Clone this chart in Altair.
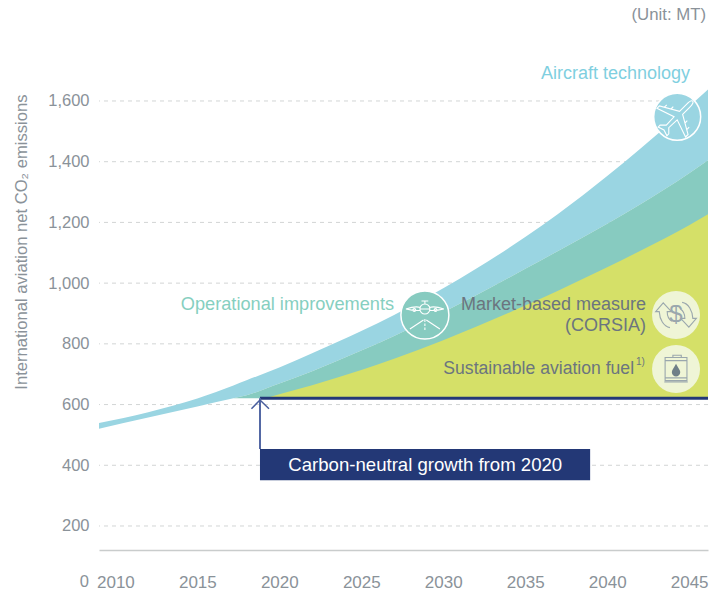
import altair as alt
import pandas as pd

# Band boundaries, MT of CO2 per year
blue_years = [2009, 2012, 2015, 2017.2, 2018, 2020, 2022, 2025, 2027, 2030, 2032, 2035, 2037, 2040, 2042, 2045, 2046.15]
blue_upper = [539, 575, 620, 663, 680, 722, 769, 842, 895, 983, 1047, 1152, 1228, 1353, 1442, 1582, 1638]
blue_lower = [520, 557, 594, 621, 631, 669, 710, 778, 826, 904, 960, 1047, 1106, 1196, 1259, 1362, 1405]

teal_years = blue_years[3:]
teal_upper = blue_lower[3:]

green_years = [2019.15, 2020, 2022, 2025, 2027, 2030, 2032, 2035, 2037, 2040, 2042, 2045, 2046.15]
green_upper = [621, 634, 664, 714, 751, 812, 856, 926, 975, 1052, 1106, 1191, 1227]

CAP = 621
CAP_START = 2018.82
X_END = 2046.15

y_grid = [200, 400, 600, 800, 1000, 1200, 1400, 1600]
x_labels = [2010, 2015, 2020, 2025, 2030, 2035, 2040, 2045]

BLUE = "#9ad5e2"
TEAL = "#87cbc0"
GREEN = "#d5e068"
NAVY = "#233876"
PALE = "#eff5d6"
GREY = "#8a9299"
DARK = "#6b757f"
ICON = "#9aa7ad"
FONT = "Liberation Sans"

x_scale = alt.Scale(domain=[2009, X_END], nice=False)
y_scale = alt.Scale(domain=[120.9, 1735], nice=False)
X = alt.X("x:Q", scale=x_scale, title=None)
Y = alt.Y("y:Q", scale=y_scale, title=None)


def band(years, upper, lower, color):
    frame = pd.DataFrame({"x": years, "y": upper, "y2": lower})
    return alt.Chart(frame).mark_area(color=color, interpolate="monotone", opacity=1).encode(X, Y, y2="y2:Q")


def polyline(xs, ys, color, width):
    frame = pd.DataFrame({"x": xs, "y": ys, "o": range(len(xs))})
    return alt.Chart(frame).mark_line(color=color, strokeWidth=width).encode(X, Y, order="o:Q")


def label(text, x, y, color, size, align="right", **kw):
    frame = pd.DataFrame({"x": [x], "y": [y], "t": [text]})
    return alt.Chart(frame).mark_text(
        color=color, fontSize=size, align=align, baseline="middle", font=FONT, **kw
    ).encode(X, Y, text="t:N")


def disc(x, y, radius, fill, stroke=None):
    # Vega sizes a circle symbol by the square of its diameter
    frame = pd.DataFrame({"x": [x], "y": [y]})
    style = dict(shape="circle", filled=True, fill=fill, size=4 * radius * radius, opacity=1)
    if stroke:
        style.update(stroke=stroke, strokeWidth=1.5)
    return alt.Chart(frame).mark_point(**style).encode(X, Y)


def glyph(path, x, y, span, color, width=1.1, filled=False, **kw):
    frame = pd.DataFrame({"x": [x], "y": [y]})
    if filled:
        style = dict(filled=True, fill=color, strokeWidth=0, opacity=1)
    else:
        style = dict(filled=False, stroke=color, strokeWidth=width, opacity=1)
    return alt.Chart(frame).mark_point(shape=path, size=span * span, **style, **kw).encode(X, Y)


PLANE_TOP = (
    "M0,-1 C.07,-1 .1,-.85 .1,-.7 L.1,-.25 L.92,.22 L.92,.38 L.1,.1 L.08,.62 L.28,.82 L.28,.94 "
    "L0,.85 L-.28,.94 L-.28,.82 L-.08,.62 L-.1,.1 L-.92,.38 L-.92,.22 L-.1,-.25 L-.1,-.7 "
    "C-.1,-.85 -.07,-1 0,-1 Z M.45,-.05 L.45,-.2 M.72,.1 L.72,-.05 M-.45,-.05 L-.45,-.2 M-.72,.1 L-.72,-.05"
)
PLANE_FRONT = (
    "M.25,-.3 A.25,.25 0 1,1 -.25,-.3 A.25,.25 0 1,1 .25,-.3 Z M-.25,-.3 L.25,-.3 "
    "M-.95,-.3 C-.6,-.42 -.35,-.42 -.24,-.38 M.95,-.3 C.6,-.42 .35,-.42 .24,-.38 "
    "M-.95,-.3 C-.6,-.22 -.35,-.22 -.25,-.24 M.95,-.3 C.6,-.22 .35,-.22 .25,-.24 "
    "M0,-.55 L0,-.7 M-.17,-.7 L.17,-.7 M-.46,-.25 A.07,.07 0 1,1 -.6,-.25 A.07,.07 0 1,1 -.46,-.25 Z "
    "M.6,-.25 A.07,.07 0 1,1 .46,-.25 A.07,.07 0 1,1 .6,-.25 Z "
    "M-.07,.25 L-.75,.7 M.07,.25 L.75,.7 M0,.2 L0,.35 M0,.42 L0,.55 M0,.62 L0,.75"
)
SWAP_ARROWS = (
    "M-.29,.6 C-.6,.55 -.78,.2 -.8,-.16 L-.97,-.16 L-.61,-.58 L-.22,-.16 L-.42,-.16 C-.42,.05 -.35,.2 -.2,.3 "
    "M.29,-.6 C.6,-.55 .78,-.2 .8,.16 L.97,.16 L.61,.58 L.22,.16 L.42,.16 C.42,-.05 .35,-.2 .2,-.3"
)
BARREL = (
    "M-.52,-.55 L.52,-.55 L.52,.55 L-.52,.55 Z M-.15,-.55 L-.15,-.66 L.25,-.66 L.25,-.55 "
    "M-.52,-.4 L.52,-.4 M-.52,.42 L.52,.42 M-.56,.62 L.56,.62"
)
DROP = "M0,-.25 C.1,-.05 .2,.05 .2,.15 C.2,.27 .1,.35 0,.35 C-.1,.35 -.2,.27 -.2,.15 C-.2,.05 -.1,-.05 0,-.25 Z"

grid = alt.Chart(pd.DataFrame({"y": y_grid})).mark_rule(
    color="#d2d5d5", strokeWidth=1, strokeDash=[4, 4]
).encode(alt.Y("y:Q", scale=y_scale, title=None))

axes = alt.Chart(pd.DataFrame({"x": [2009, X_END], "y": [120.9, 120.9]})).mark_line(opacity=0).encode(
    alt.X(
        "x:Q", scale=x_scale, title=None,
        axis=alt.Axis(
            values=x_labels, format="d", grid=False, ticks=False, labelPadding=24,
            labelColor=GREY, labelFontSize=17, labelFont=FONT, labelFlush=False,
            labelOverlap=False, domainColor="#c9cccc", domainWidth=1.5,
        ),
    ),
    alt.Y(
        "y:Q", scale=y_scale, title=None,
        axis=alt.Axis(
            values=y_grid, format=",d", grid=False, ticks=False, domain=False, labelPadding=10,
            labelColor=GREY, labelFontSize=16.5, labelFont=FONT, labelOverlap=False,
        ),
    ),
)

cap_box = alt.Chart(pd.DataFrame({"x": [CAP_START], "x2": [2038.96], "y": [453.6], "y2": [351]})).mark_rect(
    color=NAVY, opacity=1
).encode(X, alt.X2("x2:Q"), Y, y2="y2:Q")

chart = alt.layer(
    grid,
    axes,
    band(blue_years, blue_upper, blue_lower, BLUE),
    band(teal_years, teal_upper, [CAP] * len(teal_years), TEAL),
    band(green_years, green_upper, [CAP] * len(green_years), GREEN),
    polyline([CAP_START, X_END], [CAP, CAP], NAVY, 3),
    polyline([CAP_START, CAP_START], [CAP, 453.6], "#5468a4", 2),
    polyline([2018.3, CAP_START, 2019.37], [586, 615, 586], "#4a5f9e", 1.5),
    cap_box,
    label("0", 2008.39, 14, GREY, 16.5),
    label("International aviation net CO₂ emissions", 2004.3, 1135, GREY, 16.6, align="center", angle=270),
    label("Carbon-neutral growth from 2020", 2028.9, 401, "white", 18.6, align="center"),
    label("(Unit: MT)", 2046.03, 1883, GREY, 16.8),
    label("Aircraft technology", 2045.06, 1688, "#7fcfe0", 18),
    label("Operational improvements", 2027, 928, "#86cfc0", 18.2),
    label("Market-based measure", 2042.37, 928, DARK, 18),
    label("(CORSIA)", 2042.37, 859, DARK, 18),
    label("Sustainable aviation fuel", 2041.64, 717, DARK, 17.6),
    label("1)", 2041.76, 740, DARK, 10, align="left"),
    disc(2044.27, 1548, 23.5, BLUE, "white"),
    glyph(PLANE_TOP, 2044.27, 1548, 44, "white", angle=45),
    disc(2028.88, 895, 24, TEAL, "white"),
    glyph(PLANE_FRONT, 2028.88, 895, 40, "white"),
    disc(2044.2, 895, 24, PALE),
    glyph(SWAP_ARROWS, 2044.2, 895, 42, ICON),
    label("$", 2044.2, 895, ICON, 24, align="center"),
    disc(2044.2, 717, 24, PALE),
    glyph(BARREL, 2044.2, 717, 42, ICON),
    glyph(DROP, 2044.2, 717, 42, "#6f7f88", filled=True),
).properties(
    width=609,
    height=490,
    padding={"left": 99, "top": 60, "right": 1, "bottom": 42},
    autosize=alt.AutoSizeParams(type="none"),
    background="white",
).configure_view(stroke=None)

chart.save("out.html", embed_options={"renderer": "svg", "actions": False})
